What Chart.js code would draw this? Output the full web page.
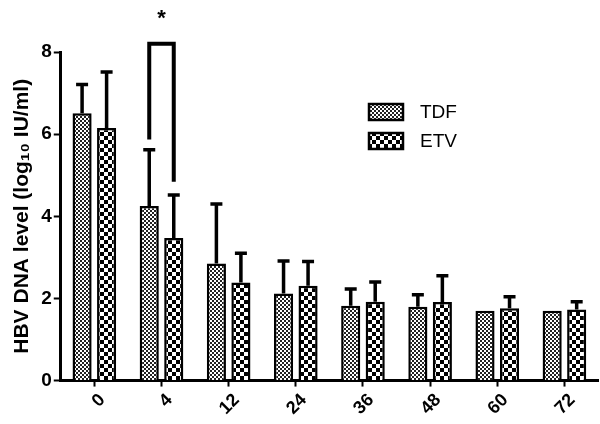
<!DOCTYPE html>
<html>
<head>
<meta charset="utf-8">
<script src="https://cdn.jsdelivr.net/npm/chart.js@4"></script>
<style>
  html, body { margin: 0; padding: 0; background: #fff; }
  #wrap { width: 600px; height: 424px; }
</style>
</head>
<body>
<div id="wrap"><canvas id="hbvChart" width="600" height="424"></canvas></div>
<script>
const weeks = ['0', '4', '12', '24', '36', '48', '60', '72'];
const tdfMean = [6.51, 4.25, 2.85, 2.12, 1.82, 1.80, 1.70, 1.70];
const tdfSD = [0.70, 1.37, 1.45, 0.79, 0.41, 0.29, 0, 0];
const etvMean = [6.15, 3.47, 2.39, 2.31, 1.92, 1.91, 1.76, 1.73];
const etvSD = [1.36, 1.05, 0.71, 0.59, 0.48, 0.64, 0.28, 0.19];
const yTicks = [0, 2, 4, 6, 8];

// significance bracket at week 4 (y values in log10 units)
const sigWeek = 1;
const sigTop = 8.2;
const sigLeftEnd = 5.87;
const sigRightEnd = 4.84;

function makePattern(cell, fg, bg) {
    const c = document.createElement('canvas');
    c.width = cell * 2;
    c.height = cell * 2;
    const g = c.getContext('2d');
    g.fillStyle = bg;
    g.fillRect(0, 0, c.width, c.height);
    g.fillStyle = fg;
    g.fillRect(0, 0, cell, cell);
    g.fillRect(cell, cell, cell, cell);
    return g.createPattern(c, 'repeat');
}

const ctx = document.getElementById('hbvChart').getContext('2d');
const tdfFill = makePattern(2, '#222', '#fff');
const etvFill = makePattern(4, '#000', '#fff');
const fontFamily = '"Liberation Sans", Arial, sans-serif';

// upper error bars
const errorBars = {
    id: 'errorBars',
    afterDatasetsDraw(chart) {
        const y = chart.scales.y;
        const c = chart.ctx;
        c.save();
        c.strokeStyle = '#000';
        c.lineWidth = 3.5;
        chart.data.datasets.forEach((ds, i) => {
            const meta = chart.getDatasetMeta(i);
            meta.data.forEach((bar, j) => {
                const sd = ds.sd[j];
                if (!sd) return;
                const top = y.getPixelForValue(ds.data[j] + sd);
                c.beginPath();
                c.moveTo(bar.x, bar.y);
                c.lineTo(bar.x, top);
                c.moveTo(bar.x - 6, top);
                c.lineTo(bar.x + 6, top);
                c.stroke();
            });
        });
        c.restore();
    }
};

// bracket + star, and the legend box
const extras = {
    id: 'extras',
    afterDraw(chart) {
        const y = chart.scales.y;
        const c = chart.ctx;
        const xl = chart.getDatasetMeta(0).data[sigWeek].x;
        const xr = chart.getDatasetMeta(1).data[sigWeek].x;
        c.save();
        c.strokeStyle = '#000';
        c.lineWidth = 4;
        c.beginPath();
        c.moveTo(xl, y.getPixelForValue(sigLeftEnd));
        c.lineTo(xl, y.getPixelForValue(sigTop));
        c.lineTo(xr, y.getPixelForValue(sigTop));
        c.lineTo(xr, y.getPixelForValue(sigRightEnd));
        c.stroke();
        c.fillStyle = '#000';
        c.font = 'bold 22px ' + fontFamily;
        c.textAlign = 'center';
        c.textBaseline = 'middle';
        c.fillText('*', (xl + xr) / 2, 19);

        // legend
        c.font = '19px ' + fontFamily;
        c.textAlign = 'left';
        chart.data.datasets.forEach((ds, i) => {
            const by = 104 + i * 29;
            c.fillStyle = ds.backgroundColor;
            c.fillRect(369, by, 34, 16);
            c.lineWidth = 2.5;
            c.strokeRect(369, by, 34, 16);
            c.fillStyle = '#000';
            c.fillText(ds.label, 420, by + 9);
        });
        c.restore();
    }
};

new Chart(ctx, {
    type: 'bar',
    data: {
        labels: weeks,
        datasets: [
            {
                label: 'TDF',
                data: tdfMean,
                sd: tdfSD,
                backgroundColor: tdfFill,
                borderColor: '#000',
                borderWidth: 2.5,
                borderSkipped: 'bottom'
            },
            {
                label: 'ETV',
                data: etvMean,
                sd: etvSD,
                backgroundColor: etvFill,
                borderColor: '#000',
                borderWidth: 2.5,
                borderSkipped: 'bottom'
            }
        ]
    },
    options: {
        responsive: false,
        animation: false,
        layout: { padding: { top: 52, right: 2, left: 10, bottom: 2 } },
        categoryPercentage: 0.73,
        barPercentage: 0.78,
        plugins: {
            legend: { display: false },
            tooltip: { enabled: false }
        },
        scales: {
            x: {
                grid: {
                    display: true,
                    offset: false,
                    drawOnChartArea: false,
                    drawTicks: true,
                    tickLength: 6,
                    tickWidth: 2,
                    tickColor: '#000'
                },
                border: { display: true, color: '#000', width: 3 },
                ticks: {
                    color: '#000',
                    minRotation: 45,
                    maxRotation: 45,
                    padding: 3,
                    labelOffset: 8,
                    font: { family: fontFamily, size: 18, weight: 'bold' }
                }
            },
            y: {
                min: 0,
                max: 8,
                afterBuildTicks(axis) {
                    axis.ticks = yTicks.map(v => ({ value: v }));
                },
                grid: {
                    display: true,
                    drawOnChartArea: false,
                    drawTicks: true,
                    tickLength: 7,
                    tickWidth: 2,
                    tickColor: '#000'
                },
                border: { display: true, color: '#000', width: 3 },
                ticks: {
                    color: '#000',
                    padding: 2,
                    font: { family: fontFamily, size: 19, weight: 'bold' }
                },
                title: {
                    display: true,
                    text: 'HBV DNA level (log₁₀ IU/ml)',
                    color: '#000',
                    padding: { top: 0, bottom: 4 },
                    font: { family: fontFamily, size: 21, weight: 'bold' }
                }
            }
        }
    },
    plugins: [errorBars, extras]
});
</script>
</body>
</html>
